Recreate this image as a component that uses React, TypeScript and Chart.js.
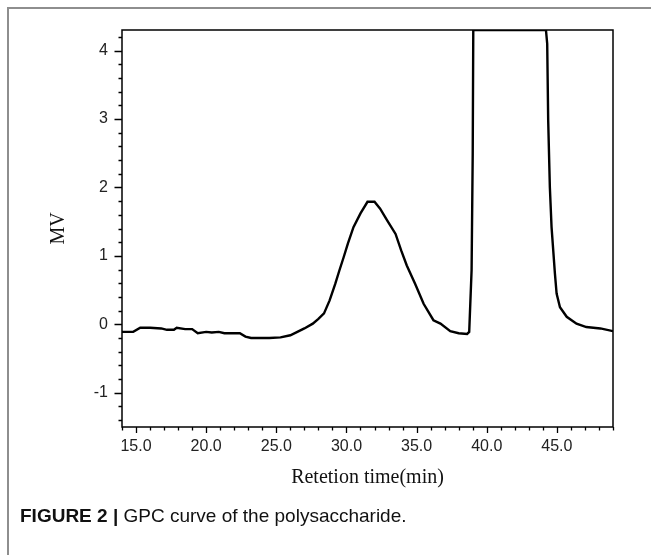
import React, { useEffect, useRef } from "react";
import { Chart, registerables } from "chart.js";

Chart.register(...registerables);

// Retention time (min)
const retentionTime = [
  14.0, 14.8, 15.3, 16.0, 16.8, 17.2, 17.7, 17.9, 18.5, 19.0, 19.4, 20.0, 20.4, 20.9, 21.3,
  22.4, 22.8, 23.2, 24.5, 25.3, 26.0, 26.5, 27.0, 27.6, 28.0, 28.4, 28.8, 29.2, 29.5, 29.8,
  30.1, 30.5, 31.0, 31.5, 32.0, 32.4, 32.9, 33.5, 33.9, 34.3, 34.9, 35.5, 36.2, 36.7, 37.4,
  38.0, 38.6, 38.75, 38.92, 39.0, 39.04, 44.22, 44.31, 44.38, 44.5, 44.62, 44.86, 44.98,
  45.22, 45.7, 46.4, 47.1, 48.1, 49.0,
];
// Detector signal (MV)
const signalMV = [
  -0.11, -0.11, -0.05, -0.05, -0.06, -0.08, -0.08, -0.05, -0.07, -0.07, -0.13, -0.11, -0.12, -0.11, -0.13,
  -0.13, -0.18, -0.2, -0.2, -0.19, -0.16, -0.11, -0.06, 0.01, 0.08, 0.16, 0.35, 0.59, 0.79, 0.98,
  1.18, 1.42, 1.62, 1.79, 1.79, 1.69, 1.52, 1.32, 1.08, 0.86, 0.59, 0.3, 0.06, 0.01, -0.1,
  -0.13, -0.14, -0.11, 0.79, 2.49, 4.3, 4.3, 4.1, 2.98, 2.0, 1.42, 0.74, 0.45,
  0.25, 0.11, 0.01, -0.04, -0.06, -0.1,
];
const xTickLabels = [15, 20, 25, 30, 35, 40, 45];
const yTickLabels = [-1, 0, 1, 2, 3, 4];
const X_MIN = 14;
const X_MAX = 49;
const Y_MIN = -1.5;
const Y_MAX = 4.3;

const W = 651;
const H = 555;

const boxAndTicks = {
  id: "boxAndTicks",
  afterDraw(chart: any) {
    const { ctx, chartArea, scales } = chart;
    const { left, right, top, bottom } = chartArea;
    const x = scales.x;
    const y = scales.y;
    ctx.save();
    ctx.strokeStyle = "#000";
    ctx.lineWidth = 1.5;
    ctx.strokeRect(left, top, right - left, bottom - top);
    ctx.lineWidth = 1.3;
    ctx.beginPath();
    for (let v = X_MIN; v <= X_MAX; v++) {
      const px = Math.round(x.getPixelForValue(v)) + 0.5;
      const len = v % 5 === 0 ? 6 : 3.5;
      ctx.moveTo(px, bottom);
      ctx.lineTo(px, bottom + len);
    }
    for (let i = Math.ceil(Y_MIN * 5); i / 5 <= Y_MAX; i++) {
      const py = Math.round(y.getPixelForValue(i / 5)) + 0.5;
      const len = i % 5 === 0 ? 7.5 : 3.5;
      ctx.moveTo(left, py);
      ctx.lineTo(left - len, py);
    }
    ctx.stroke();
    ctx.restore();
  },
};

export default function App() {
  const ref = useRef<HTMLCanvasElement | null>(null);
  useEffect(() => {
    if (!ref.current) return;
    const tickFont = { family: "'Liberation Sans', Arial, sans-serif", size: 16 };
    const titleFont = { family: "'Liberation Serif', 'Times New Roman', serif", size: 20 };
    const chart = new Chart(ref.current, {
      type: "line",
      data: {
        datasets: [
          {
            data: retentionTime.map((t, i) => ({ x: t, y: signalMV[i] })),
            borderColor: "#000",
            borderWidth: 2.4,
            pointRadius: 0,
            tension: 0,
            fill: false,
          },
        ],
      },
      options: {
        animation: false,
        responsive: false,
        devicePixelRatio: 1,
        layout: { padding: { left: 47, top: 30, right: 38, bottom: 65 } },
        plugins: { legend: { display: false }, tooltip: { enabled: false } },
        scales: {
          x: {
            type: "linear",
            min: X_MIN,
            max: X_MAX,
            afterBuildTicks: (s: any) => {
              s.ticks = xTickLabels.map((v) => ({ value: v }));
            },
            afterFit: (s: any) => {
              s.height = 63;
            },
            ticks: {
              autoSkip: false,
              maxRotation: 0,
              padding: 4,
              color: "#222",
              font: tickFont,
              callback: (v: any) => Number(v).toFixed(1),
            },
            grid: { drawOnChartArea: false, tickLength: 6, tickColor: "rgba(0,0,0,0)" },
            border: { display: false },
            title: {
              display: true,
              text: "Retetion time(min)",
              color: "#111",
              font: titleFont,
              padding: 0,
            },
          },
          y: {
            type: "linear",
            min: Y_MIN,
            max: Y_MAX,
            afterBuildTicks: (s: any) => {
              s.ticks = yTickLabels.map((v) => ({ value: v }));
            },
            afterFit: (s: any) => {
              s.width = 75;
            },
            ticks: {
              padding: 7,
              color: "#222",
              font: tickFont,
              callback: (v: any) => String(v),
            },
            grid: { drawOnChartArea: false, tickLength: 7, tickColor: "rgba(0,0,0,0)" },
            border: { display: false },
            title: {
              display: true,
              text: "MV",
              color: "#111",
              font: titleFont,
              padding: 0,
            },
          },
        },
      },
      plugins: [boxAndTicks],
    });
    return () => chart.destroy();
  }, []);

  return (
    <div style={{ position: "fixed", left: 0, top: 0, width: W, height: H, background: "#fff", overflow: "hidden" }}>
      <div
        style={{
          position: "absolute",
          left: 7,
          top: 7,
          width: W,
          height: H,
          borderTop: "2px solid #8e8e8e",
          borderLeft: "2px solid #8e8e8e",
        }}
      />
      <canvas ref={ref} width={W} height={H} style={{ position: "absolute", left: 0, top: 0 }} />
      <div
        style={{
          position: "absolute",
          left: 20,
          top: 505,
          fontFamily: "'Liberation Sans', Arial, sans-serif",
          fontSize: 19,
          color: "#111",
          whiteSpace: "nowrap",
          lineHeight: "22px",
        }}
      >
        <b>FIGURE 2 |</b> GPC curve of the polysaccharide.
      </div>
    </div>
  );
}
